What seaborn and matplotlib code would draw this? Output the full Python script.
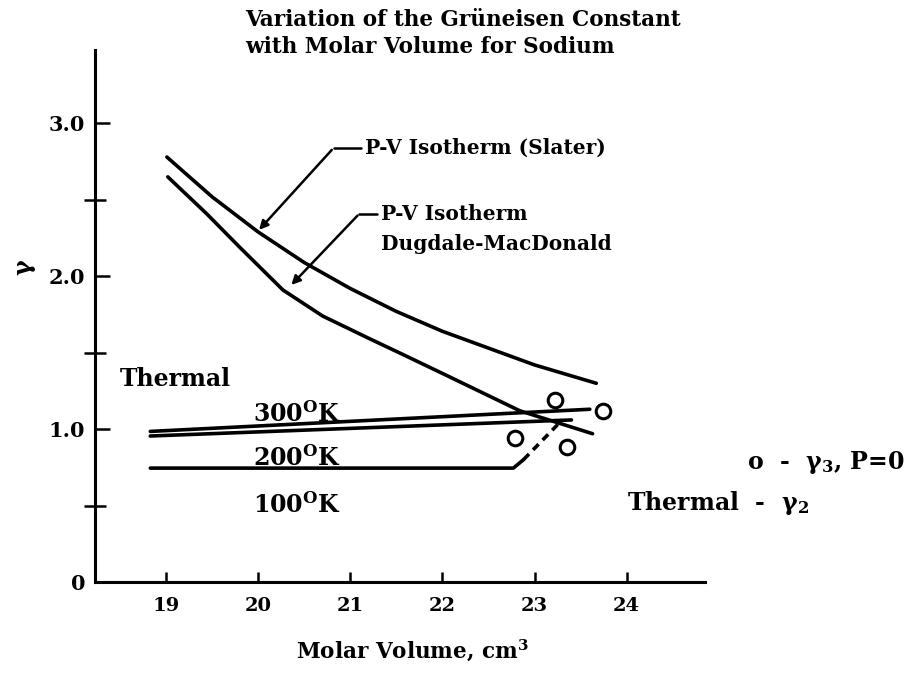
import numpy as np
import pandas as pd
import seaborn as sns
import matplotlib.pyplot as plt

# values
slater_vol = [19.01, 19.5, 20.0, 20.5, 21.0, 21.5, 22.0, 22.5, 23.0, 23.67]
slater_gamma = [2.78, 2.52, 2.29, 2.09, 1.92, 1.77, 1.64, 1.53, 1.42, 1.30]

dm_vol = [19.02, 19.44, 19.80, 20.27, 20.70, 21.18, 21.60, 22.05, 22.84, 23.63]
dm_gamma = [2.65, 2.41, 2.19, 1.91, 1.74, 1.60, 1.48, 1.35, 1.12, 0.97]

t300_vol = [18.83, 23.60]
t300_gamma = [0.985, 1.13]
t200_vol = [18.83, 23.40]
t200_gamma = [0.955, 1.06]
t100_vol = [18.83, 22.77, 22.88]
t100_gamma = [0.745, 0.745, 0.80]
t100_dash_vol = [22.88, 23.30]
t100_dash_gamma = [0.80, 1.06]

g3_vol = [22.79, 23.22, 23.74, 23.35]
g3_gamma = [0.94, 1.19, 1.12, 0.88]

xticks = [19, 20, 21, 22, 23, 24]
yticks = [0, 1.0, 2.0, 3.0]
ylabels = ['0', '1.0', '2.0', '3.0']
yticks_minor = [0.5, 1.5, 2.5]

sns.set_style("ticks")
plt.rcParams['font.family'] = ['DejaVu Serif']
plt.rcParams['font.weight'] = 'bold'
plt.rcParams['mathtext.fontset'] = 'dejavuserif'
plt.rcParams['mathtext.default'] = 'bf'
for k in ['text.color', 'axes.labelcolor', 'xtick.color', 'ytick.color', 'axes.edgecolor']:
    plt.rcParams[k] = 'black'

fig = plt.figure(figsize=(9.23, 6.77), dpi=100)
ax = fig.add_axes([95 / 923, 1 - 582 / 677, 610 / 923, 532 / 677])

lw = 2.6
sns.lineplot(x=slater_vol, y=slater_gamma, sort=False, estimator=None, color='black', lw=lw, ax=ax)
sns.lineplot(x=dm_vol, y=dm_gamma, sort=False, estimator=None, color='black', lw=lw, ax=ax)
sns.lineplot(x=t300_vol, y=t300_gamma, sort=False, estimator=None, color='black', lw=lw, ax=ax)
sns.lineplot(x=t200_vol, y=t200_gamma, sort=False, estimator=None, color='black', lw=lw, ax=ax)
sns.lineplot(x=t100_vol, y=t100_gamma, sort=False, estimator=None, color='black', lw=lw, ax=ax)
ax.plot(t100_dash_vol, t100_dash_gamma, color='black', lw=lw, ls=(0, (2.2, 1.6)))
sns.scatterplot(x=g3_vol, y=g3_gamma, marker='o', s=110, facecolor='white',
                edgecolor='black', linewidth=2.2, zorder=5, ax=ax)

ax.set_xlim(18.23, 24.85)
ax.set_ylim(0, 3.48)
sns.despine(ax=ax)
for s in ['left', 'bottom']:
    ax.spines[s].set_linewidth(2.2)

ax.set_xticks(xticks)
ax.set_xticklabels([str(v) for v in xticks])
ax.set_yticks(yticks)
ax.set_yticklabels(ylabels)
ax.set_yticks(yticks_minor, minor=True)
ax.tick_params(axis='x', direction='in', length=7, width=1.8, labelsize=14, pad=11)
ax.tick_params(axis='y', which='major', direction='in', length=11, width=1.8, labelsize=15, pad=7)
ax.tick_params(axis='y', which='minor', direction='inout', length=16, width=1.8)

ax.set_xlabel('Molar Volume, cm$^3$', fontsize=15.5, fontweight='bold')
ax.xaxis.set_label_coords(0.52, -0.105)
ax.set_ylabel('γ', fontsize=17, fontweight='bold')
ax.yaxis.set_label_coords(-0.098, 0.592)

fig.text(245 / 923, 1 - 20 / 677, 'Variation of the Grüneisen Constant', fontsize=15.5,
         fontweight='bold', ha='left', va='center')
fig.text(245 / 923, 1 - 47 / 677, 'with Molar Volume for Sodium', fontsize=15.5,
         fontweight='bold', ha='left', va='center')

# labels with bent arrows
ax.annotate('', xy=(19.99, 2.29), xytext=(20.82, 2.84),
            arrowprops=dict(arrowstyle='-|>', color='black', lw=1.8, mutation_scale=13))
ax.plot([20.82, 21.12], [2.84, 2.84], color='black', lw=1.8)
ax.text(21.16, 2.84, 'P-V Isotherm (Slater)', fontsize=14.5, fontweight='bold', va='center')

ax.annotate('', xy=(20.34, 1.93), xytext=(21.10, 2.41),
            arrowprops=dict(arrowstyle='-|>', color='black', lw=1.8, mutation_scale=13))
ax.plot([21.10, 21.29], [2.41, 2.41], color='black', lw=1.8)
ax.text(21.33, 2.41, 'P-V Isotherm', fontsize=14.5, fontweight='bold', va='center')
ax.text(21.33, 2.21, 'Dugdale-MacDonald', fontsize=14.5, fontweight='bold', va='center')

ax.text(18.5, 1.33, 'Thermal', fontsize=17, fontweight='bold', va='center')
ax.text(19.95, 1.10, '300$^{\\mathbf{O}}$K', fontsize=17, fontweight='bold', va='center')
ax.text(19.95, 0.81, '200$^{\\mathbf{O}}$K', fontsize=17, fontweight='bold', va='center')
ax.text(19.95, 0.50, '100$^{\\mathbf{O}}$K', fontsize=17, fontweight='bold', va='center')

fig.text(747 / 923, 1 - 462 / 677, 'o  -  γ$_3$, P=0', fontsize=17, fontweight='bold',
         ha='left', va='center')
fig.text(627 / 923, 1 - 503 / 677, 'Thermal  -  γ$_2$', fontsize=17, fontweight='bold',
         ha='left', va='center')

fig.savefig('out.png', dpi=100)
